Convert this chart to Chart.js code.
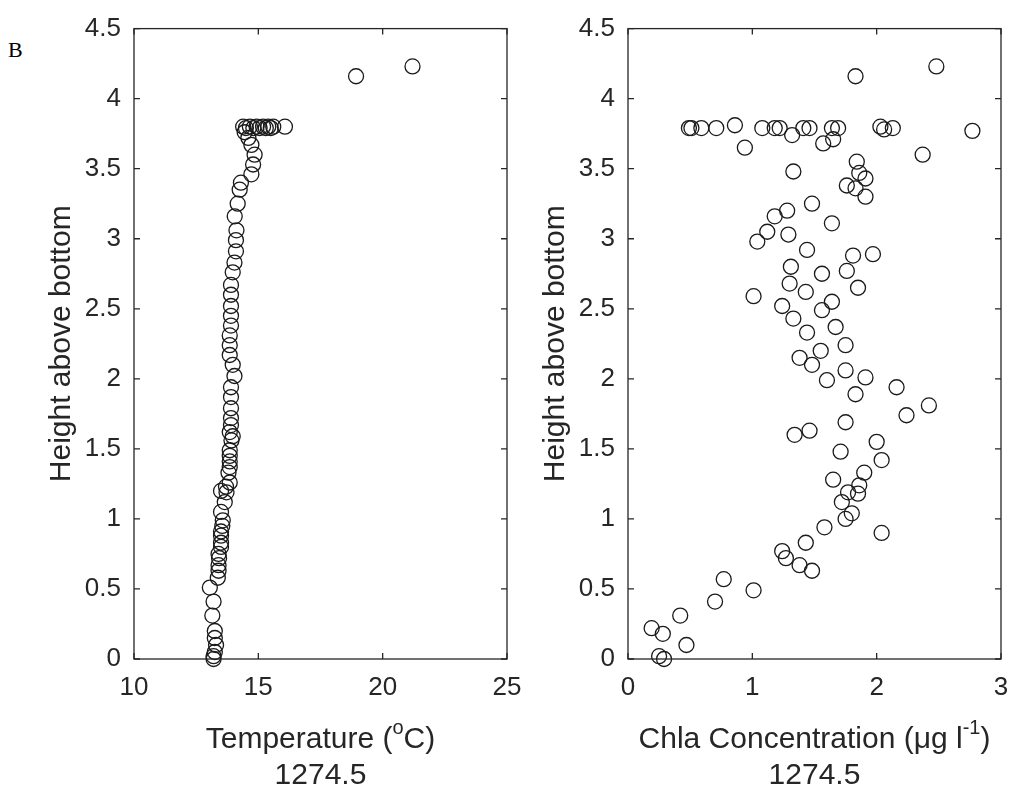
<!DOCTYPE html>
<html>
<head>
<meta charset="utf-8">
<script src="https://cdn.jsdelivr.net/npm/chart.js@4.4.1/dist/chart.umd.min.js"></script>
<style>
  body { margin: 0; background: #fff; width: 1011px; height: 794px; position: relative; overflow: hidden; }
  canvas { position: absolute; top: 0; }
  #panelB { position: absolute; left: 8px; top: 37px; font: 22px "Liberation Serif", "Times New Roman", serif; color: #000; }
</style>
</head>
<body>
<div id="panelB">B</div>
<canvas id="graficoTemp" width="540" height="794" style="left:0px"></canvas>
<canvas id="graficoChla" width="530" height="794" style="left:494px"></canvas>
<script>
// Ticks de los ejes
var alturaTicks = [0, 0.5, 1, 1.5, 2, 2.5, 3, 3.5, 4, 4.5];
var tempTicks = [10, 15, 20, 25];
var chlaTicks = [0, 1, 2, 3];

// Perfil de temperatura (x = temperatura, y = altura sobre el fondo)
var tempX = [13.2, 13.2, 13.25, 13.3, 13.25, 13.25, 13.15, 13.2, 13.05, 13.37, 13.4, 13.4, 13.42, 13.4, 13.5, 13.5,
  13.5, 13.5, 13.55, 13.57, 13.5, 13.65, 13.72, 13.5, 13.7, 13.85, 13.8, 13.85, 13.85, 13.85, 13.85, 13.92,
  13.97, 13.85, 13.9, 13.9, 13.9, 13.9, 13.9, 14.04, 13.97, 13.85, 13.85, 13.85, 13.9, 13.9, 13.9, 13.9,
  13.9, 13.97, 14.04, 14.1, 14.1, 14.12, 14.05, 14.17, 14.25, 14.3, 14.72, 14.79, 14.85, 14.72, 14.6, 14.45,
  14.39, 14.5, 14.66, 14.8, 14.93, 15.05, 15.19, 15.3, 15.4, 15.5, 15.6, 16.07, 18.93, 21.2];
var tempH = [0.0, 0.02, 0.05, 0.1, 0.15, 0.2, 0.31, 0.41, 0.51, 0.58, 0.63, 0.67, 0.72, 0.75, 0.8, 0.83,
  0.88, 0.91, 0.95, 0.99, 1.05, 1.12, 1.19, 1.2, 1.23, 1.26, 1.33, 1.37, 1.41, 1.45, 1.49, 1.56,
  1.59, 1.62, 1.67, 1.72, 1.79, 1.87, 1.94, 2.02, 2.1, 2.17, 2.24, 2.31, 2.38, 2.45, 2.52, 2.6,
  2.67, 2.76, 2.83, 2.91, 2.99, 3.06, 3.16, 3.25, 3.35, 3.4, 3.46, 3.53, 3.6, 3.67, 3.72, 3.76,
  3.8, 3.79, 3.8, 3.79, 3.8, 3.79, 3.8, 3.79, 3.8, 3.79, 3.8, 3.8, 4.16, 4.23];

// Concentracion de clorofila (x = Chla, y = altura sobre el fondo)
var chlaX = [0.49, 0.51, 0.59, 0.71, 0.86, 1.08, 1.18, 1.22, 1.32, 1.41, 1.46, 1.64, 1.69, 2.03, 2.06, 2.13, 2.77,
  1.83, 2.48, 2.37, 0.94, 1.57, 1.65, 1.33, 1.84, 1.86, 1.91, 1.76, 1.83, 1.91, 1.48, 1.28, 1.18, 1.64,
  1.12, 1.29, 1.04, 1.44, 1.81, 1.97, 1.31, 1.56, 1.76, 1.3, 1.85, 1.43, 1.01, 1.64, 1.24, 1.56, 1.33,
  1.67, 1.44, 1.75, 1.55, 1.38, 1.48, 1.75, 1.6, 1.91, 2.16, 1.83, 2.42, 2.24, 1.75, 1.46, 1.34, 2.0,
  1.71, 2.04, 1.9, 1.65, 1.86, 1.77, 1.85, 1.72, 1.8, 1.75, 1.58, 2.04, 1.43, 1.24, 1.27, 1.38, 1.48,
  0.77, 1.01, 0.7, 0.42, 0.19, 0.28, 0.47, 0.25, 0.29];
var chlaH = [3.79, 3.79, 3.79, 3.79, 3.81, 3.79, 3.79, 3.79, 3.74, 3.79, 3.79, 3.79, 3.79, 3.8, 3.78, 3.79, 3.77,
  4.16, 4.23, 3.6, 3.65, 3.68, 3.71, 3.48, 3.55, 3.47, 3.43, 3.38, 3.36, 3.3, 3.25, 3.2, 3.16, 3.11,
  3.05, 3.03, 2.98, 2.92, 2.88, 2.89, 2.8, 2.75, 2.77, 2.68, 2.65, 2.62, 2.59, 2.55, 2.52, 2.49, 2.43,
  2.37, 2.33, 2.24, 2.2, 2.15, 2.1, 2.06, 1.99, 2.01, 1.94, 1.89, 1.81, 1.74, 1.69, 1.63, 1.6, 1.55,
  1.48, 1.42, 1.33, 1.28, 1.24, 1.19, 1.18, 1.12, 1.04, 1.0, 0.94, 0.9, 0.83, 0.77, 0.72, 0.67, 0.63,
  0.57, 0.49, 0.41, 0.31, 0.22, 0.18, 0.1, 0.02, 0.0];

var fuente = '"Liberation Sans", Arial, sans-serif';
var grisEje = '#262626';

function aPuntos(xs, ys) {
  var pts = [];
  for (var i = 0; i < xs.length; i++) {
    pts.push({ x: xs[i], y: ys[i] });
  }
  return pts;
}

// Caja estilo MATLAB con ticks hacia adentro y titulo del eje x con superindices
var cajaMatlab = {
  id: 'cajaMatlab',
  afterDraw: function(chart, args, opts) {
    var ctx = chart.ctx;
    var a = chart.chartArea;
    var sx = chart.scales.x, sy = chart.scales.y;
    var largo = 6;
    ctx.save();
    ctx.strokeStyle = grisEje;
    ctx.lineWidth = 1.3;
    ctx.strokeRect(a.left, a.top, a.right - a.left, a.bottom - a.top);
    ctx.beginPath();
    sx.ticks.forEach(function(t) {
      var px = sx.getPixelForValue(t.value);
      ctx.moveTo(px, a.bottom); ctx.lineTo(px, a.bottom - largo);
      ctx.moveTo(px, a.top); ctx.lineTo(px, a.top + largo);
    });
    sy.ticks.forEach(function(t) {
      var py = sy.getPixelForValue(t.value);
      ctx.moveTo(a.left, py); ctx.lineTo(a.left + largo, py);
      ctx.moveTo(a.right, py); ctx.lineTo(a.right - largo, py);
    });
    ctx.stroke();

    // titulo del eje x (dos lineas)
    var cx = (a.left + a.right) / 2;
    var partes = opts.partes;
    var fNormal = '30px ' + fuente, fSup = '20px ' + fuente;
    var ancho = 0;
    partes.forEach(function(p) {
      ctx.font = p.sup ? fSup : fNormal;
      ancho += ctx.measureText(p.texto).width;
    });
    var x = cx - ancho / 2;
    ctx.fillStyle = grisEje;
    ctx.textBaseline = 'middle';
    ctx.textAlign = 'left';
    partes.forEach(function(p) {
      ctx.font = p.sup ? fSup : fNormal;
      ctx.fillText(p.texto, x, p.sup ? 728 : 740);
      x += ctx.measureText(p.texto).width;
    });
    ctx.font = fNormal;
    ctx.textAlign = 'center';
    ctx.fillText(opts.linea2, cx, 776);
    ctx.restore();
  }
};

function crearPanel(idCanvas, xs, hs, ticksX, partes, padDerecha) {
  var ctx = document.getElementById(idCanvas).getContext('2d');
  return new Chart(ctx, {
    type: 'scatter',
    data: {
      datasets: [{
        data: aPuntos(xs, hs),
        pointStyle: 'circle',
        pointRadius: 7.5,
        pointBorderWidth: 1.3,
        pointBorderColor: '#1a1a1a',
        pointBackgroundColor: 'rgba(0,0,0,0)',
        clip: false
      }]
    },
    options: {
      responsive: false,
      animation: false,
      layout: { padding: { left: 0, right: padDerecha, top: 19, bottom: 0 } },
      plugins: {
        legend: { display: false },
        tooltip: { enabled: false },
        cajaMatlab: { partes: partes, linea2: '1274.5' }
      },
      scales: {
        x: {
          type: 'linear',
          min: ticksX[0],
          max: ticksX[ticksX.length - 1],
          ticks: { stepSize: ticksX[1] - ticksX[0], color: grisEje, padding: 13, font: { family: fuente, size: 26 } },
          grid: { display: false, drawTicks: false },
          border: { display: false },
          afterFit: function(scale) {
            scale.height = 135;
            scale.paddingLeft = 0;
            scale.paddingRight = 0;
          }
        },
        y: {
          type: 'linear',
          min: alturaTicks[0],
          max: alturaTicks[alturaTicks.length - 1],
          ticks: {
            stepSize: alturaTicks[1] - alturaTicks[0],
            color: grisEje,
            padding: 13,
            font: { family: fuente, size: 26 },
            callback: function(v) { return String(Math.round(v * 10) / 10); }
          },
          grid: { display: false, drawTicks: false },
          border: { display: false },
          title: {
            display: true,
            text: 'Height above bottom',
            color: grisEje,
            font: { family: fuente, size: 30, lineHeight: 1.2 },
            padding: { top: 44, bottom: 0 }
          },
          afterFit: function(scale) { scale.width = 134; }
        }
      }
    },
    plugins: [cajaMatlab]
  });
}

crearPanel('graficoTemp', tempX, tempH, tempTicks, [
  { texto: 'Temperature (' }, { texto: 'o', sup: true }, { texto: 'C)' }
], 33);

crearPanel('graficoChla', chlaX, chlaH, chlaTicks, [
  { texto: 'Chla Concentration (\u03BCg l' }, { texto: '-1', sup: true }, { texto: ')' }
], 23);
</script>
</body>
</html>
